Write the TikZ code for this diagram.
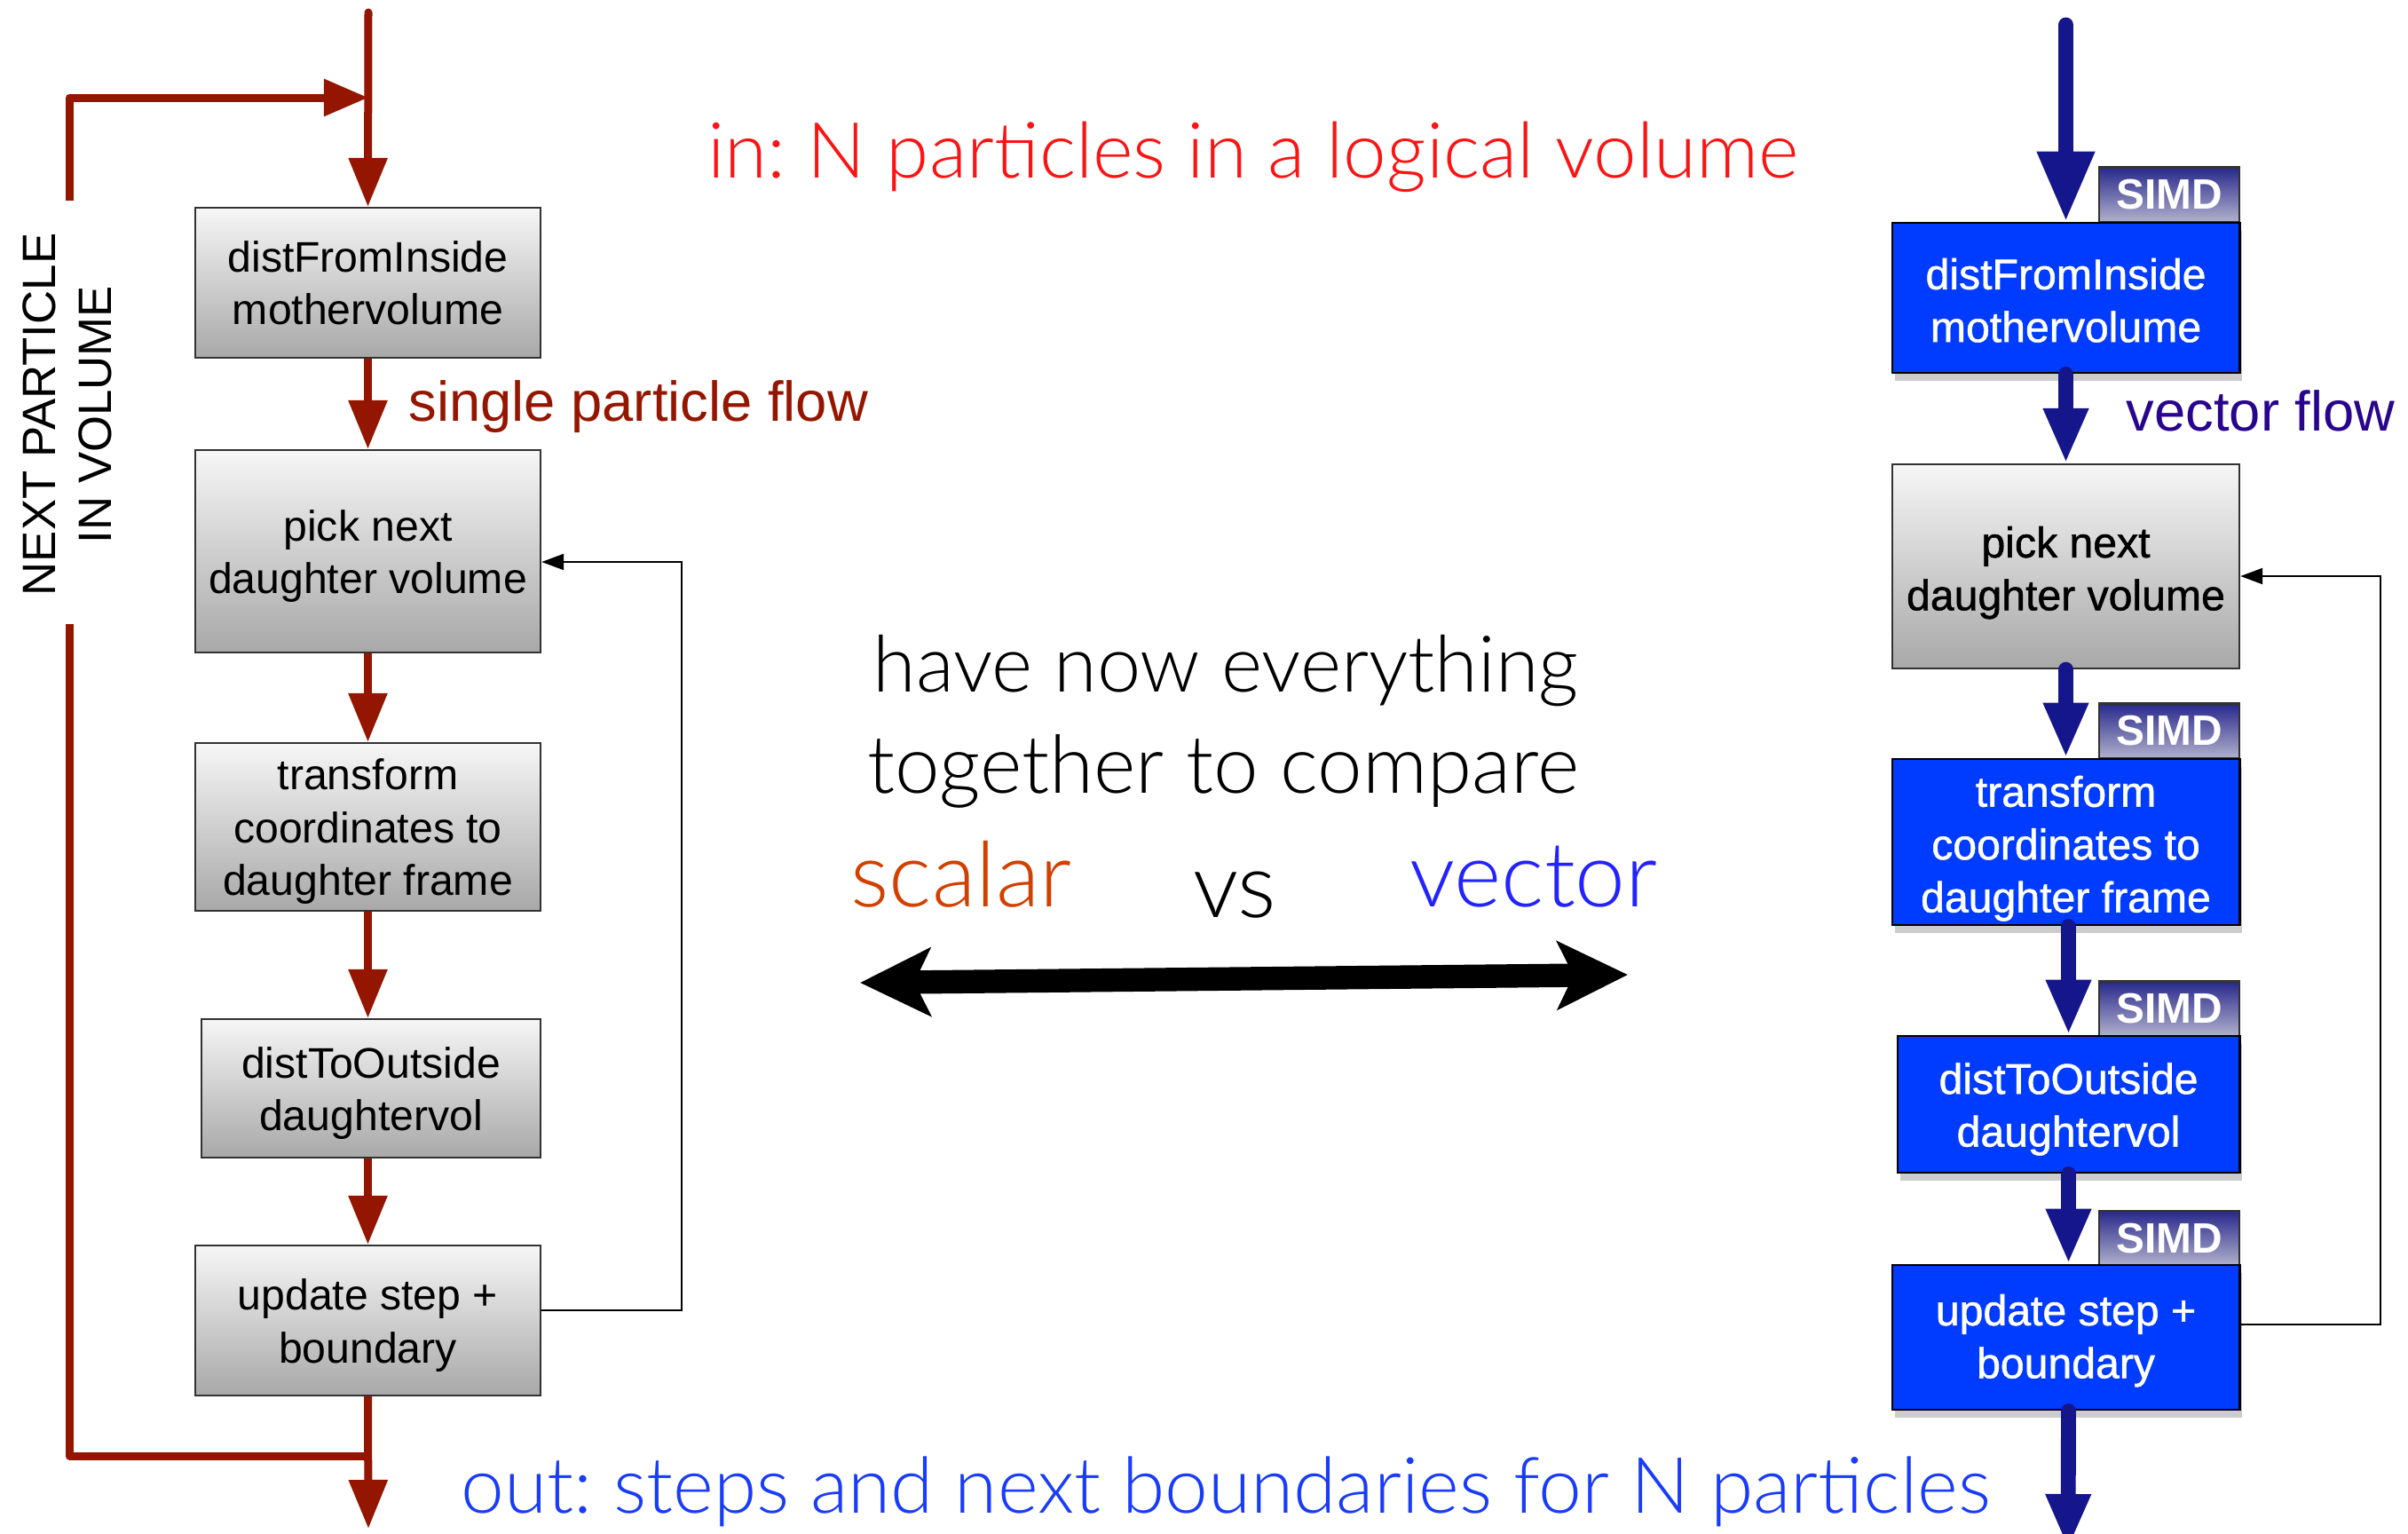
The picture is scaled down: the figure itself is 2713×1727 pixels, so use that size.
\documentclass[tikz,border=0pt]{standalone}
\usepackage{fontspec}
\newfontfamily\arialf{Liberation Sans}
\newfontfamily\arialh{Liberation Sans}[FakeBold=1.1]
\newfontfamily\gill{Lato Light}
\usetikzlibrary{arrows.meta,shadows}
\newcommand\tstrut[1]{\rule{0pt}{#1}}
\definecolor{dred}{RGB}{148,22,0}
\definecolor{navy}{RGB}{22,22,140}
\definecolor{bbox}{RGB}{0,60,255}
\definecolor{ttlred}{RGB}{250,20,20}
\definecolor{scal}{RGB}{210,64,0}
\definecolor{vect}{RGB}{35,35,255}
\definecolor{outb}{RGB}{25,60,250}
\definecolor{vflow}{RGB}{40,5,140}
\definecolor{simdtop}{RGB}{40,40,140}
\definecolor{simdbot}{RGB}{178,178,205}
\definecolor{graytop}{RGB}{246,246,246}
\definecolor{graybot}{RGB}{168,168,168}
\definecolor{edge}{RGB}{50,50,50}
\tikzset{
  boxtext/.style={font={\arialf\fontsize{13.7pt}{16.9pt}\selectfont}},
  boxtextr/.style={font={\arialh\fontsize{13.7pt}{16.9pt}\selectfont}},
  graybox/.style={draw=edge, line width=0.6pt, top color=graytop, bottom color=graybot,
    align=center, inner sep=0pt},
  bluebox/.style={draw=black, line width=0.8pt, fill=bbox, text=white, align=center, inner sep=0pt,
    drop shadow={shadow xshift=0.03cm, shadow yshift=-0.09cm, opacity=0.4}},
  simdtab/.style={draw=edge, line width=0.6pt, top color=simdtop, bottom color=simdbot, text=white,
    inner sep=0pt, minimum width=1.58cm, minimum height=0.62cm,
    font={\arialf\bfseries\fontsize{13.6pt}{16pt}\selectfont}},
  redarrow/.style={draw=dred, line width=2.56pt, -{Triangle[length=0.55cm,width=0.42cm]}},
  redline/.style={draw=dred, line width=2.56pt, line join=round},
  bluearrow/.style={draw=navy, line width=4.8pt, line cap=round, -{Triangle[length=0.62cm,width=0.47cm]}},
  fbarrow/.style={draw=black, line width=0.6pt, -{Triangle[length=0.25cm,width=0.18cm]}},
  gilltext/.style={font={\gill\frenchspacing\fontsize{25.1pt}{29pt}\selectfont}, anchor=base, inner sep=0pt},
  gillbig/.style={font={\gill\fontsize{29pt}{34pt}\selectfont}, anchor=base, inner sep=0pt},
}
\begin{document}
\begin{tikzpicture}[x=0.01cm, y=-0.01cm]
\useasboundingbox (0,0) rectangle (2713,1727);

% ---------------- left column (scalar) ----------------
\node[graybox, boxtext, minimum width=3.89cm, minimum height=1.69cm] (L1) at (414.5,318.5) {distFromInside\\mothervolume};
\node[graybox, boxtext, minimum width=3.89cm, minimum height=2.28cm] (L2) at (414.5,621) {\tstrut{13pt}pick next\\daughter volume};
\node[graybox, boxtext, minimum width=3.89cm, minimum height=1.89cm] (L3) at (414.5,931.5) {\tstrut{13pt}transform\\coordinates to\\daughter frame};
\node[graybox, boxtext, minimum width=3.82cm, minimum height=1.56cm] (L4) at (418,1226) {\tstrut{13pt}distToOutside\\daughtervol};
\node[graybox, boxtext, minimum width=3.89cm, minimum height=1.69cm] (L5) at (414.5,1487.5) {\tstrut{13pt}update step +\\boundary};

\coordinate (topin) at (415,14);
\coordinate (topj) at (415,110);
\coordinate (botj) at (415,1640);
\coordinate (botout) at (415,1722);
\coordinate (loopA) at (78,703);
\coordinate (loopB) at (78,226);

\draw[redarrow, line cap=round] (topin) -- (L1.north);
\draw[redarrow] (L1.south) -- (L2.north);
\draw[redarrow] (L2.south) -- (L3.north);
\draw[redarrow] (L3.south) -- (L4.north -| L3.south);
\draw[redarrow] (L4.south -| L3.south) -- (L5.north);
\draw[redarrow] (L5.south) -- (botout);
\draw[redline] (botj) -| (loopA);
\draw[redline, -{Triangle[length=0.5cm,width=0.4cm]}] (loopB) |- (topj);

\node[rotate=90, align=center, inner sep=0pt, font={\arialf\fontsize{15pt}{18pt}\selectfont}] (nextp) at (75.5,467) {NEXT PARTICLE\\IN VOLUME};
\node[anchor=base west, inner sep=0pt, text=dred, font={\arialf\fontsize{18pt}{21pt}\selectfont}] (spf) at (460,474) {single particle flow};

\coordinate (lfa) at ([yshift=0.115cm]L5.east);
\coordinate (lfb) at ([yshift=-0.12cm]L2.east);
\coordinate (lfx) at (768,0);
\draw[fbarrow] (lfa) -- (lfa -| lfx) -- (lfb -| lfx) -- (lfb);

% ---------------- right column (vector) ----------------
\node[simdtab] (T1) at (2444,219.5) {SIMD};
\node[bluebox, boxtextr, minimum width=3.91cm, minimum height=1.69cm] (R1) at (2327.5,335.5) {\tstrut{11.5pt}distFromInside\\mothervolume};
\node[graybox, boxtextr, minimum width=3.91cm, minimum height=2.30cm] (R2) at (2327.5,638) {\tstrut{14pt}pick next\\daughter volume};
\node[simdtab] (T3) at (2444,823.5) {SIMD};
\node[bluebox, boxtextr, minimum width=3.91cm, minimum height=1.87cm] (R3) at (2327.5,948.5) {\tstrut{14pt}transform\\coordinates to\\daughter frame};
\node[simdtab] (T4) at (2444,1136.5) {SIMD};
\node[bluebox, boxtextr, minimum width=3.85cm, minimum height=1.54cm] (R4) at (2330.5,1244) {\tstrut{13pt}distToOutside\\daughtervol};
\node[simdtab] (T5) at (2444,1395) {SIMD};
\node[bluebox, boxtextr, minimum width=3.91cm, minimum height=1.63cm] (R5) at (2327.5,1506.5) {\tstrut{12pt}update step +\\boundary};

\coordinate (bin) at (2327.5,28);
\coordinate (bout) at (2330,1745);
\draw[bluearrow, -{Triangle[length=0.79cm,width=0.61cm]}] (bin) -- (R1.north);
\draw[bluearrow] (R1.south) -- (R2.north);
\draw[bluearrow] (R2.south) -- (R3.north);
\draw[bluearrow] (R3.south -| R4.north) -- (R4.north);
\draw[bluearrow] (R4.south) -- (R5.north -| R4.south);
\draw[bluearrow] (R5.south -| R4.south) -- (bout);

\node[anchor=base west, inner sep=0pt, text=vflow, font={\arialf\fontsize{18pt}{21pt}\selectfont}] (vf) at (2395,485) {vector flow};

\coordinate (rfa) at ([yshift=0.145cm]R5.east);
\coordinate (rfb) at ([yshift=-0.11cm]R2.east);
\coordinate (rfx) at (2682,0);
\draw[fbarrow] (rfa) -- (rfa -| rfx) -- (rfb -| rfx) -- (rfb);

% ---------------- middle texts ----------------
\node[gilltext, text=ttlred, font={\gill\frenchspacing\fontsize{24.8pt}{29pt}\selectfont}] (title) at (1412,200) {in: N particles in a logical volume};
\node[gilltext] (have) at (1381,779) {have now everything};
\node[gilltext, font={\gill\fontsize{25.8pt}{29pt}\selectfont}] (together) at (1378,893) {together to compare};
\node[gillbig, text=scal] (scalar) at (1083,1021) {scalar};
\node[gillbig] (vs) at (1391,1033) {vs};
\node[gillbig, text=vect] (vector) at (1728,1021) {vector};
\node[gilltext, text=outb, font={\gill\frenchspacing\fontsize{24.9pt}{29pt}\selectfont}] (out) at (1381,1704) {out: steps and next boundaries for N particles};

\coordinate (dal) at (969,1107);
\coordinate (dar) at (1834,1098);
\draw[line width=7.5pt, {Stealth[length=0.79cm,width=0.76cm,inset=0.18cm]}-{Stealth[length=0.79cm,width=0.76cm,inset=0.18cm]}] (dal) -- (dar);
\end{tikzpicture}
\end{document}
